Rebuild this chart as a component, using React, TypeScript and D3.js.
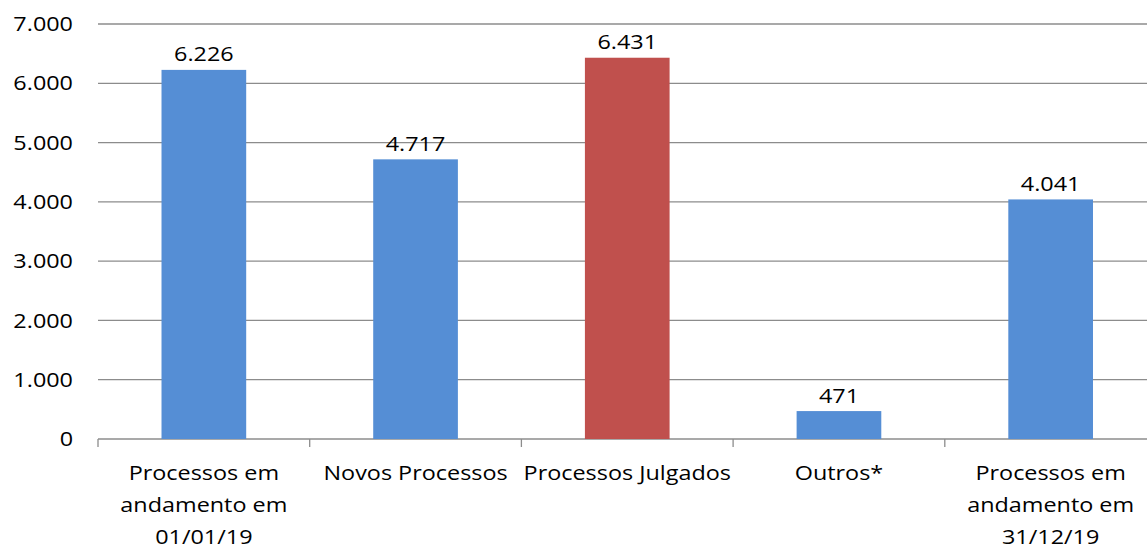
import React from "react";
import * as d3 from "d3";

const categories: string[][] = [
  ["Processos em", "andamento em", "01/01/19"],
  ["Novos Processos"],
  ["Processos Julgados"],
  ["Outros*"],
  ["Processos em", "andamento em", "31/12/19"],
];
const values: number[] = [6226, 4717, 6431, 471, 4041];
const barColors: string[] = ["#558ED5", "#558ED5", "#C0504D", "#558ED5", "#558ED5"];
const yTicks: number[] = [0, 1000, 2000, 3000, 4000, 5000, 6000, 7000];

const W = 1147;
const H = 549;
const FONT = "'Open Sans', sans-serif";
const FS = 20;
const SX = 1.17; // horizontal stretch of the lettering

const fmt = (v: number) => d3.format(",")(v).replace(/,/g, ".");

export default function App() {
  const x = d3
    .scaleBand<number>()
    .domain(values.map((_, i) => i))
    .range([98, 1156.5])
    .paddingInner(0.6)
    .paddingOuter(0.3);
  const y = d3.scaleLinear().domain([0, 7000]).range([439, 24]);
  const step = x.step();
  const boundaries = d3.range(values.length + 1).map((i) => 98 + i * step);
  const cx = (i: number) => (x(i) as number) + x.bandwidth() / 2;
  const tf = (tx: number, ty: number) => `translate(${tx},${ty}) scale(${SX},1)`;

  return (
    <svg
      width={W}
      height={H}
      style={{ position: "absolute", left: 0, top: 0, background: "#fff" }}
    >
      {/* horizontal gridlines */}
      {yTicks.map((t) => (
        <line
          key={t}
          x1={98}
          x2={W}
          y1={y(t)}
          y2={y(t)}
          stroke="#8c8c8c"
          strokeWidth={1.3}
        />
      ))}
      {/* category tick marks */}
      {boundaries.map((bx, i) => (
        <line
          key={i}
          x1={bx}
          x2={bx}
          y1={y(0)}
          y2={y(0) + 8}
          stroke="#8c8c8c"
          strokeWidth={1.3}
        />
      ))}
      {/* y axis labels */}
      {yTicks.map((t) => (
        <text
          key={t}
          transform={tf(73, y(t))}
          dy="0.36em"
          textAnchor="end"
          fontFamily={FONT}
          fontSize={FS}
          fill="#000"
        >
          {fmt(t)}
        </text>
      ))}
      {/* bars */}
      {values.map((v, i) => (
        <rect
          key={i}
          x={x(i)}
          y={y(v)}
          width={x.bandwidth()}
          height={y(0) - y(v)}
          fill={barColors[i]}
        />
      ))}
      {/* value labels */}
      {values.map((v, i) => (
        <text
          key={i}
          transform={tf(cx(i), y(v) - 8.5)}
          textAnchor="middle"
          fontFamily={FONT}
          fontSize={FS}
          fill="#000"
        >
          {fmt(v)}
        </text>
      ))}
      {/* category labels */}
      {categories.map((lines, i) => (
        <text
          key={i}
          transform={tf(cx(i), 479.5)}
          textAnchor="middle"
          fontFamily={FONT}
          fontSize={FS}
          fill="#000"
        >
          {lines.map((l, j) => (
            <tspan key={j} x={0} dy={j === 0 ? 0 : 32.5}>
              {l}
            </tspan>
          ))}
        </text>
      ))}
    </svg>
  );
}
